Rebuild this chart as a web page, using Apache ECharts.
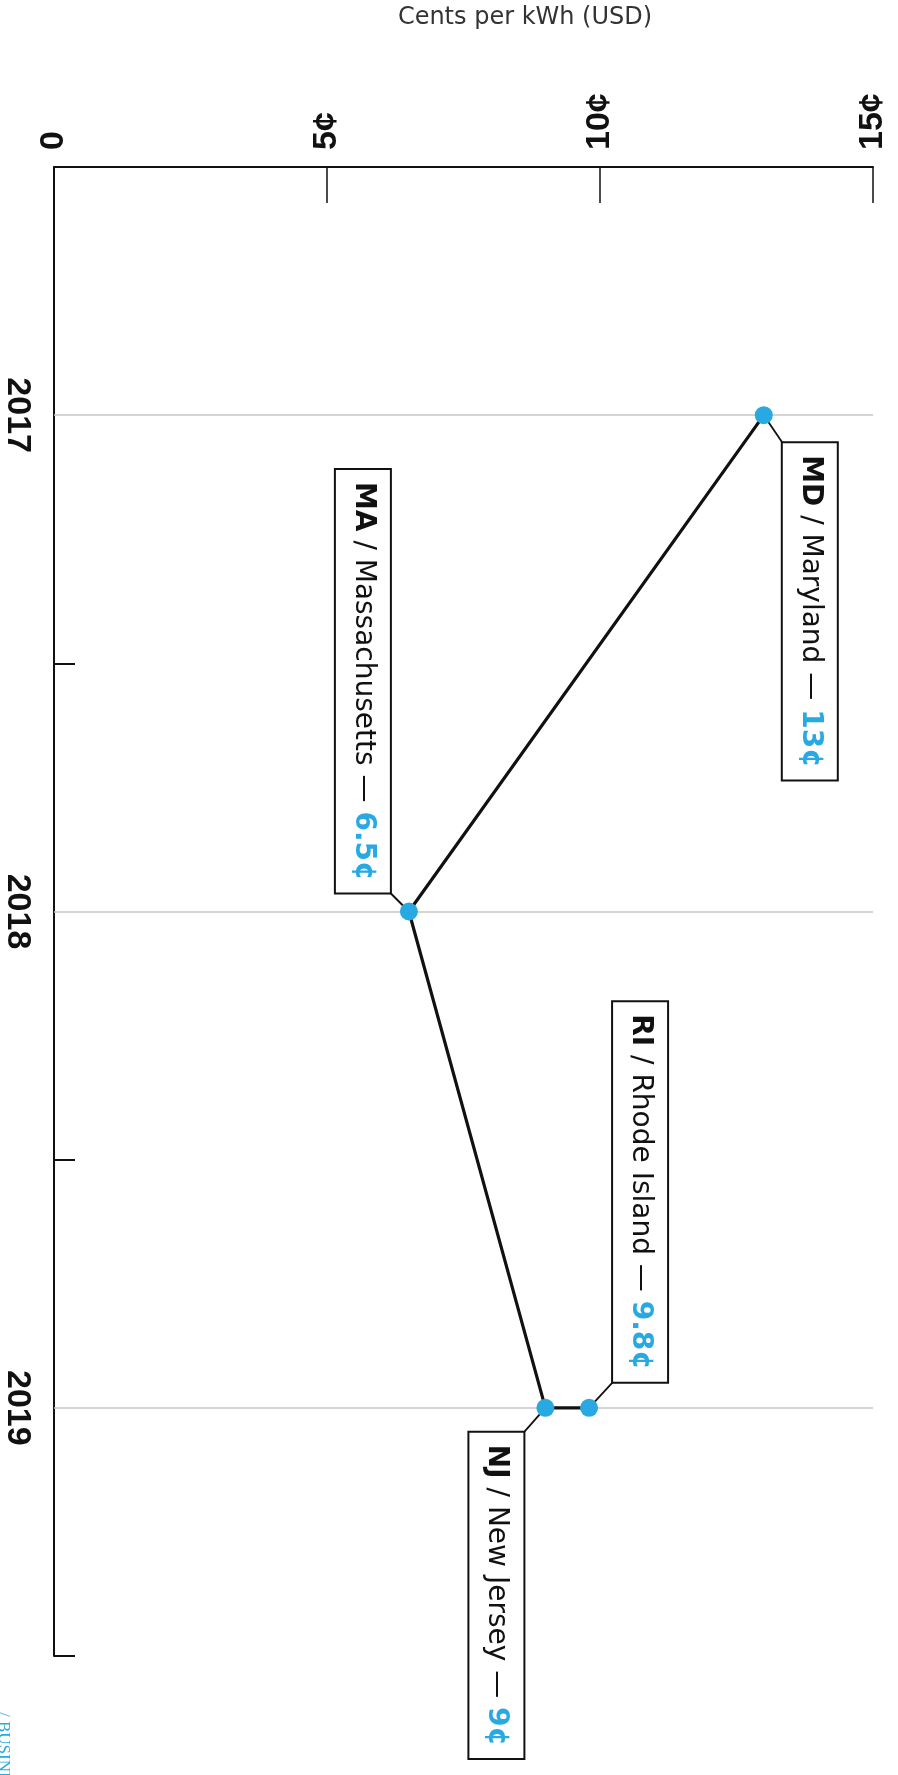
<!DOCTYPE html>
<html>
<head>
<meta charset="utf-8">
<title>Cents per kWh (USD)</title>
<script src="https://cdn.jsdelivr.net/npm/echarts@6/dist/echarts.min.js"></script>
<style>
  html, body { margin: 0; padding: 0; background: #ffffff; }
  #chart { width: 898px; height: 1775px; }
</style>
</head>
<body>
<div id="chart"></div>
<script>
// ---- data ----
const years = [2017, 2018, 2019];                 // labelled years (grid lines)
const centTicks = [0, 5, 10, 15];                 // value-axis ticks
const codes = ['MD', 'MA', 'NJ', 'RI'];
const states = ['Maryland', 'Massachusetts', 'New Jersey', 'Rhode Island'];
const pointYears = [2017, 2018, 2019, 2019];
const cents = [13, 6.5, 9, 9.8];

// ---- styling ----
const BLUE = '#29a9e1';
const INK = '#111111';
const AXIS_FONT = 'Liberation Sans, Arial, sans-serif';
const BOX_FONT = 'DejaVu Sans, sans-serif';

// Callout placement relative to each point (pixels), and which corner of the box
// the leader line meets. Text is turned a quarter-turn clockwise.
const callout = {
  MD: { dx: 19,  dy: 28,  align: 'left',  va: 'bottom' },
  MA: { dx: -19, dy: -19, align: 'right', va: 'top' },
  NJ: { dx: -22, dy: 25,  align: 'left',  va: 'top' },
  RI: { dx: 24,  dy: -26, align: 'right', va: 'bottom' }
};

const points = cents.map((c, i) => [c, pointYears[i]]);

const chart = echarts.init(document.getElementById('chart'), null, { renderer: 'canvas' });

const boxFontBase = { fontFamily: BOX_FONT, fontSize: 28, lineHeight: 30 };
const tickFont = { fontFamily: AXIS_FONT, fontWeight: 'bold', fontSize: 34, color: INK };

chart.setOption({
  animation: false,
  backgroundColor: '#ffffff',
  grid: { left: 54, right: 25, top: 167, bottom: 119 },
  graphic: [
    {
      type: 'text', x: 525, y: 18, silent: true,
      style: {
        text: 'Cents per kWh (USD)',
        align: 'center', textAlign: 'center',
        verticalAlign: 'middle', textVerticalAlign: 'middle',
        fontFamily: BOX_FONT, fontSize: 24, fill: '#333333'
      }
    },
    {
      type: 'text', x: 12, y: 1712, rotation: -Math.PI / 2, silent: true,
      style: {
        text: '/ BUSINESS INSIDER',
        align: 'left', textAlign: 'left',
        verticalAlign: 'top', textVerticalAlign: 'top',
        fontFamily: 'Liberation Serif, serif', fontSize: 17, fill: BLUE
      }
    }
  ],
  xAxis: {
    type: 'value',
    position: 'top',
    min: centTicks[0],
    max: centTicks[centTicks.length - 1],
    interval: centTicks[1] - centTicks[0],
    axisLine: { show: true, onZero: false, lineStyle: { color: INK, width: 2 } },
    axisTick: { show: true, inside: true, length: 36, lineStyle: { color: INK, width: 1.5 } },
    splitLine: { show: false },
    axisLabel: Object.assign({}, tickFont, {
      rotate: -90,
      margin: 17,
      // the zero label sits a little further from the axis than the cent labels
      formatter: v => (v === 0 ? '{z|0}' : v + '¢'),
      rich: {
        z: Object.assign({}, tickFont, { width: 29, align: 'left' })
      }
    })
  },
  yAxis: [
    {
      // years, labelled at whole years
      type: 'value',
      inverse: true,
      position: 'left',
      min: 2016.5,
      max: 2019.5,
      interval: 0.5,
      axisLine: { show: true, onZero: false, lineStyle: { color: INK, width: 2 } },
      axisTick: { show: false },
      splitLine: { show: false },
      axisLabel: Object.assign({}, tickFont, {
        rotate: -90,
        margin: 20,
        formatter: v => (Number.isInteger(v) ? String(v) : '')
      })
    },
    {
      // half-year tick marks along the year axis
      type: 'value',
      position: 'left',
      offset: 0,
      min: 0,
      max: 3,
      interval: 1,
      axisLine: { show: false, onZero: false },
      axisLabel: { show: false },
      splitLine: { show: false },
      axisTick: { show: true, inside: true, length: 21, lineStyle: { color: INK, width: 2 } }
    }
  ],
  series: [
    {
      // whole-year guide lines, kept underneath everything else
      name: 'years',
      type: 'line',
      z: 1,
      data: points,
      showSymbol: false,
      silent: true,
      lineStyle: { opacity: 0 },
      markLine: {
        z: 1,
        silent: true,
        symbol: ['none', 'none'],
        label: { show: false },
        lineStyle: { color: '#c6c6c6', width: 1.5, type: 'solid' },
        emphasis: { disabled: true },
        data: years.map(y => ({ yAxis: y }))
      }
    },
    {
      name: 'price path',
      type: 'line',
      z: 6,
      data: points,
      showSymbol: false,
      silent: true,
      lineStyle: { color: INK, width: 3.2 }
    },
    {
      name: 'callouts',
      type: 'custom',
      z: 7,
      silent: true,
      clip: false,
      data: points.map((p, i) => [p[0], p[1], i]),
      encode: { x: 0, y: 1 },
      renderItem: function (params, api) {
        const i = api.value(2);
        const pt = api.coord([api.value(0), api.value(1)]);
        const c = callout[codes[i]];
        const ax = pt[0] + c.dx;
        const ay = pt[1] + c.dy;
        return {
          type: 'group',
          children: [
            {
              type: 'line',
              shape: { x1: pt[0], y1: pt[1], x2: ax, y2: ay },
              style: { stroke: INK, lineWidth: 1.8 }
            },
            {
              type: 'text',
              x: ax,
              y: ay,
              rotation: -Math.PI / 2,
              style: Object.assign({}, boxFontBase, {
                text: '{b|' + codes[i] + '} / ' + states[i] + ' — {v|' + cents[i] + '¢}',
                align: c.align, textAlign: c.align,
                verticalAlign: c.va, textVerticalAlign: c.va,
                fill: INK,
                backgroundColor: '#ffffff',
                borderColor: INK,
                borderWidth: 2,
                padding: [12, 12],
                rich: {
                  b: Object.assign({}, boxFontBase, { fontWeight: 'bold', fill: INK }),
                  v: Object.assign({}, boxFontBase, { fontWeight: 'bold', fill: BLUE })
                }
              })
            }
          ]
        };
      }
    },
    {
      name: 'states',
      type: 'scatter',
      z: 8,
      silent: true,
      data: points,
      symbol: 'circle',
      symbolSize: 18,
      itemStyle: { color: BLUE, opacity: 1 }
    }
  ]
});
</script>
</body>
</html>
